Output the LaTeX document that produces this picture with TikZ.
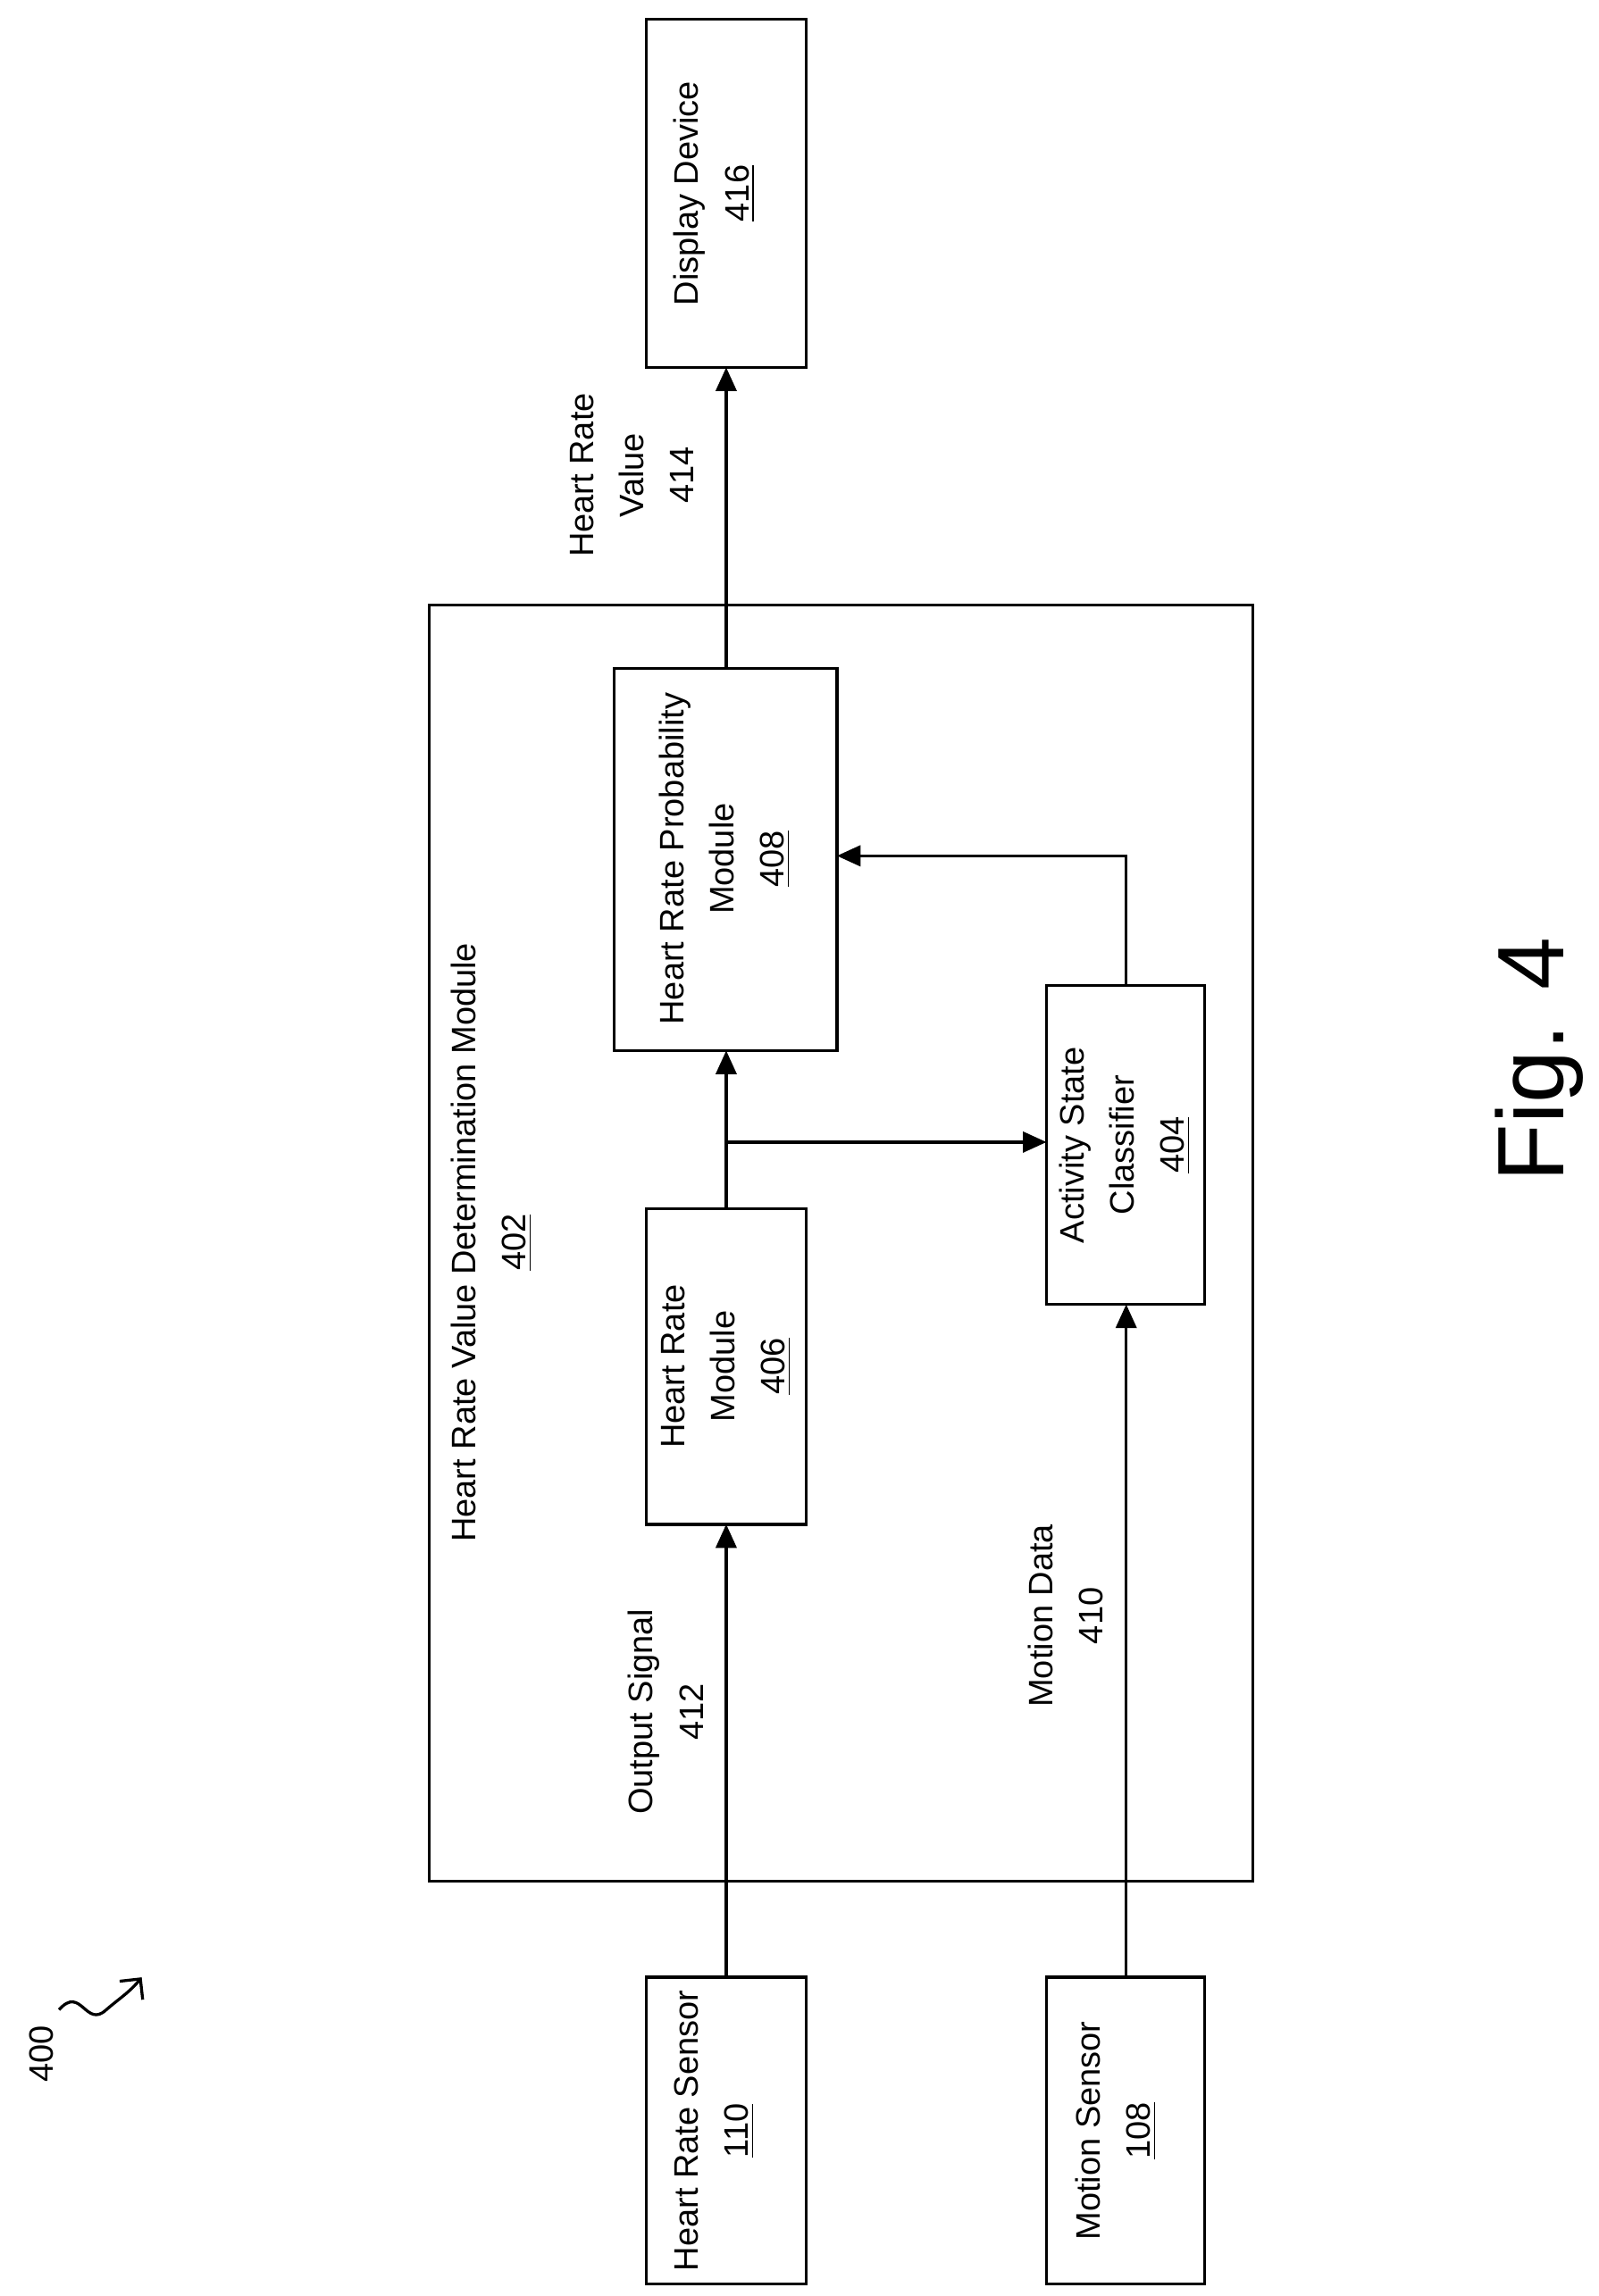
\documentclass[tikz,border=0pt]{standalone}
\usepackage{fontspec}
\setmainfont{Liberation Sans}
\usetikzlibrary{arrows.meta}
\begin{document}
\begin{tikzpicture}[x=0.5pt,y=-0.5pt,
 box/.style={draw,line width=1pt},
 lab/.style={rotate=90,align=center,font=\fontsize{11.5}{17}\selectfont},
 arr/.style={line width=1pt,-{Triangle[length=8pt,width=7pt]}},
 ln/.style={line width=1pt}]
\useasboundingbox (0,0) rectangle (1083,1556);
\draw[box] (438,13) rectangle (546,249);
\node[lab] (dd) at (484,131) {Display Device\\\underline{416}};
\draw[box] (291,410) rectangle (849,1275);
\node[lab] (m402) at (333,842) {Heart Rate Value Determination Module\\\underline{402}};
\draw[box] (416,453) rectangle (567,712);
\node[lab] (p408) at (491,582) {Heart Rate Probability\\Module\\\underline{408}};
\draw[box] (438,819) rectangle (546,1033);
\node[lab] (h406) at (492,926) {Heart Rate\\Module\\\underline{406}};
\draw[box] (709,668) rectangle (816,884);
\node[lab] (a404) at (762,776) {Activity State\\Classifier\\\underline{404}};
\draw[box] (438,1340) rectangle (546,1548);
\node[lab] (s110) at (484,1444) {Heart Rate Sensor\\\underline{110}};
\draw[box] (709,1340) rectangle (816,1548);
\node[lab] (s108) at (756,1444) {Motion Sensor\\\underline{108}};
\coordinate (j) at (492,774);
\draw[arr] (492,1340) -- (492,1033);
\draw[arr] (763,1340) -- (763,884);
\draw[arr] (492,819) -- (492,712);
\draw[arr] (j) -- (709,774);
\draw[arr] (763,668) -- (763,580) -- (567,580);
\draw[arr] (492,453) -- (492,249);
\node[lab] (l412) at (451,1160) {Output Signal\\412};
\node[lab] (l410) at (722,1095) {Motion Data\\410};
\node[lab] (l414) at (428,322) {Heart Rate\\Value\\414};
\node[lab] (l400) at (28,1392) {400};
\draw[ln,-{Straight Barb[length=5pt]}] (40,1362) .. controls (55,1345) and (58,1375) .. (72,1362) .. controls (80,1355) and (88,1350) .. (96,1340);
\node[rotate=90,font=\fontsize{32}{36}\selectfont] (fig) at (1043,718) {Fig. 4};
\end{tikzpicture}
\end{document}
